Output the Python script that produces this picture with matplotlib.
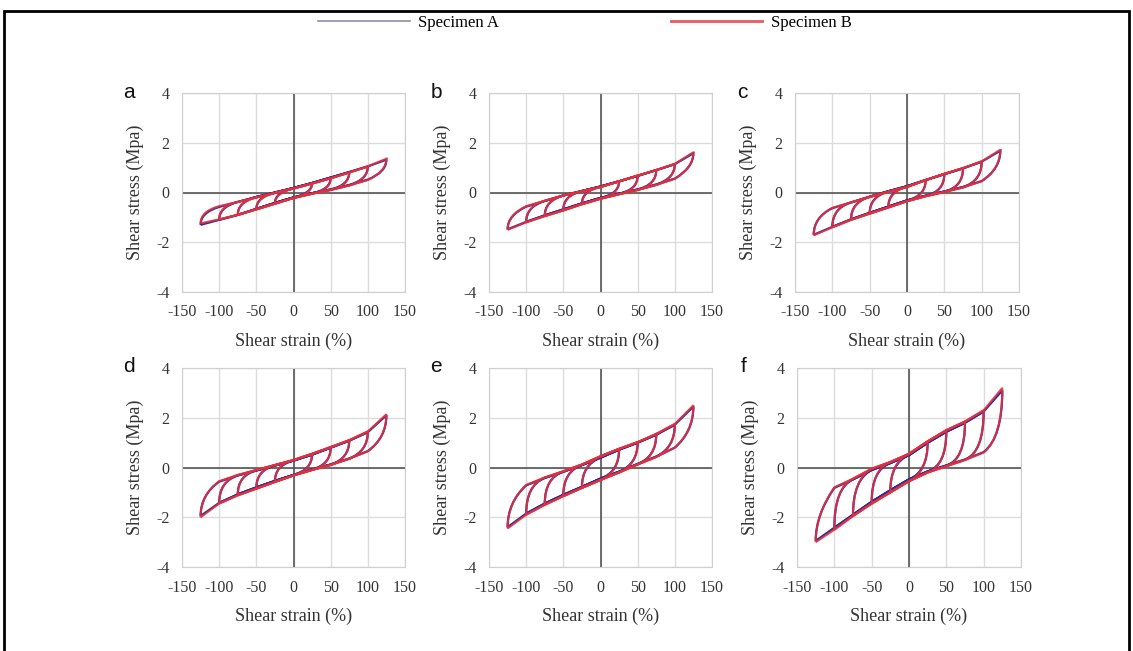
import matplotlib
matplotlib.use("Agg")
import matplotlib.pyplot as plt
from matplotlib.path import Path
from matplotlib.patches import PathPatch, Rectangle
from matplotlib.lines import Line2D

plt.rcParams["axes.unicode_minus"] = False

# strain grid (%) at which the stress bands were read
strain = [-125, -100, -75, -50, -25, 0, 25, 50, 75, 100, 125]
amplitudes = [25, 50, 75, 100, 125]
panels = ["a", "b", "c", "d", "e", "f"]

# shear stress (MPa) of the upper (loading) and lower (unloading) branches
upper_B = {
    "a": [-0.75, -0.55, -0.38, -0.20, -0.02, 0.16, 0.36, 0.57, 0.80, 1.05, 1.36],
    "b": [-0.90, -0.55, -0.33, -0.12, 0.05, 0.22, 0.45, 0.68, 0.90, 1.15, 1.62],
    "c": [-1.00, -0.62, -0.40, -0.18, 0.03, 0.22, 0.50, 0.75, 0.98, 1.25, 1.72],
    "d": [-1.10, -0.55, -0.30, -0.10, 0.10, 0.30, 0.55, 0.82, 1.10, 1.45, 2.14],
    "e": [-1.40, -0.70, -0.40, -0.15, 0.12, 0.45, 0.75, 1.02, 1.35, 1.75, 2.50],
    "f": [-1.90, -0.80, -0.45, -0.05, 0.22, 0.55, 1.05, 1.50, 1.85, 2.30, 3.20],
}
lower_B = {
    "a": [-1.24, -1.08, -0.90, -0.68, -0.45, -0.22, -0.05, 0.10, 0.28, 0.50, 0.85],
    "b": [-1.50, -1.20, -0.95, -0.72, -0.47, -0.25, -0.07, 0.10, 0.30, 0.55, 1.00],
    "c": [-1.72, -1.40, -1.10, -0.85, -0.60, -0.35, -0.15, 0.02, 0.20, 0.45, 0.95],
    "d": [-2.00, -1.45, -1.12, -0.85, -0.58, -0.32, -0.10, 0.10, 0.35, 0.65, 1.20],
    "e": [-2.45, -1.90, -1.50, -1.15, -0.82, -0.50, -0.20, 0.12, 0.42, 0.80, 1.45],
    "f": [-3.00, -2.50, -1.95, -1.45, -1.00, -0.55, -0.20, 0.05, 0.30, 0.60, 1.20],
}
upper_A = {
    "a": [-0.80, -0.58, -0.38, -0.18, 0.00, 0.18, 0.38, 0.60, 0.82, 1.05, 1.32],
    "b": [-0.92, -0.57, -0.34, -0.12, 0.06, 0.24, 0.45, 0.67, 0.90, 1.14, 1.58],
    "c": [-1.00, -0.63, -0.40, -0.17, 0.05, 0.25, 0.50, 0.74, 0.97, 1.24, 1.68],
    "d": [-1.10, -0.57, -0.32, -0.12, 0.08, 0.28, 0.52, 0.80, 1.08, 1.42, 2.10],
    "e": [-1.40, -0.72, -0.42, -0.17, 0.10, 0.40, 0.72, 1.00, 1.32, 1.72, 2.45],
    "f": [-1.90, -0.82, -0.48, -0.10, 0.18, 0.50, 1.00, 1.44, 1.80, 2.25, 3.10],
}
lower_A = {
    "a": [-1.30, -1.10, -0.90, -0.66, -0.42, -0.20, -0.03, 0.12, 0.30, 0.52, 0.82],
    "b": [-1.48, -1.18, -0.92, -0.68, -0.44, -0.22, -0.05, 0.12, 0.32, 0.56, 1.00],
    "c": [-1.70, -1.38, -1.08, -0.82, -0.57, -0.32, -0.13, 0.04, 0.22, 0.46, 0.95],
    "d": [-1.95, -1.42, -1.08, -0.80, -0.54, -0.30, -0.08, 0.12, 0.36, 0.66, 1.20],
    "e": [-2.40, -1.85, -1.45, -1.10, -0.78, -0.45, -0.17, 0.14, 0.44, 0.80, 1.45],
    "f": [-2.95, -2.42, -1.90, -1.38, -0.92, -0.48, -0.16, 0.08, 0.32, 0.62, 1.20],
}

x_ticks = [-150, -100, -50, 0, 50, 100, 150]
y_ticks = [-4, -2, 0, 2, 4]

col_A = "#2b2b9e"
col_B = "#e2303c"

# axes boxes in pixels (left, top, right, bottom) on a 1133x651 canvas
W, H = 1133, 651
boxes = {
    "a": (182, 93, 405, 292), "b": (489, 93, 712, 292), "c": (795, 93, 1019, 292),
    "d": (182, 368, 405, 567), "e": (489, 368, 712, 567), "f": (797, 368, 1021, 567),
}


def loop(amp, up, lo):
    # one hysteresis cycle: steep reversal arcs joined to the two branches
    i0 = strain.index(-amp)
    i1 = strain.index(amp)
    verts = [(-amp, lo[i0]), (-amp, up[i0]), (strain[i0 + 1], up[i0 + 1])]
    codes = [Path.MOVETO, Path.CURVE3, Path.CURVE3]
    for i in range(i0 + 2, i1 + 1):
        verts.append((strain[i], up[i]))
        codes.append(Path.LINETO)
    verts += [(amp, lo[i1]), (strain[i1 - 1], lo[i1 - 1])]
    codes += [Path.CURVE3, Path.CURVE3]
    for i in range(i1 - 2, i0 - 1, -1):
        verts.append((strain[i], lo[i]))
        codes.append(Path.LINETO)
    return Path(verts, codes)


fig = plt.figure(figsize=(W / 100, H / 100), dpi=100)
serif = "Liberation Serif"

for p in panels:
    l, t, r, b = boxes[p]
    ax = fig.add_axes([l / W, 1 - b / H, (r - l) / W, (b - t) / H])
    ax.set_xlim(-150, 150)
    ax.set_ylim(-4, 4)
    ax.set_xticks(x_ticks)
    ax.set_yticks(y_ticks)
    ax.grid(True, color="#dcdcdc", lw=1.0)
    ax.set_axisbelow(True)
    ax.axhline(0, color="#555555", lw=1.2, zorder=1)
    ax.axvline(0, color="#555555", lw=1.2, zorder=1)
    for s in ax.spines.values():
        s.set_color("#cfcfcf")
    ax.tick_params(length=0, labelsize=11.5, colors="#333333")
    ax.tick_params(axis="x", pad=9)
    ax.tick_params(axis="y", pad=9)
    for lab in ax.get_xticklabels() + ax.get_yticklabels():
        lab.set_fontfamily(serif)
    ax.set_xlabel("Shear strain (%)", fontsize=13, family=serif, color="#333333", labelpad=9)
    ax.set_ylabel("Shear stress (Mpa)", fontsize=13, family=serif, color="#333333", labelpad=9)

    for a in amplitudes:
        ax.add_patch(PathPatch(loop(a, upper_A[p], lower_A[p]), fill=False,
                               ec=col_A, lw=1.6, zorder=3))
    for a in amplitudes:
        ax.add_patch(PathPatch(loop(a, upper_B[p], lower_B[p]), fill=False,
                               ec=col_B, lw=1.5, alpha=0.9, zorder=4))

    fig.text((l - 53) / W, 1 - (t - 1) / H, p, fontsize=15, family="Liberation Sans",
             ha="center", va="center", color="#111111")

handles = [Line2D([], [], color="#8c8fa8", lw=1.2),
           Line2D([], [], color=col_B, lw=2.0, alpha=0.8)]
fig.legend(handles, ["Specimen A", "Specimen B"], loc="center",
           bbox_to_anchor=(0.516, 1 - 23 / H), ncol=2, frameon=False,
           prop={"family": serif, "size": 12}, handlelength=5.5,
           columnspacing=10.3, handletextpad=0.5)

# outer frame of the figure
fig.add_artist(Rectangle((4 / W, -0.2), (1129 - 4) / W, 1.2 - 11 / H,
                         transform=fig.transFigure, fill=False, ec="black", lw=2))

fig.savefig("out.png", dpi=100, facecolor="white")
